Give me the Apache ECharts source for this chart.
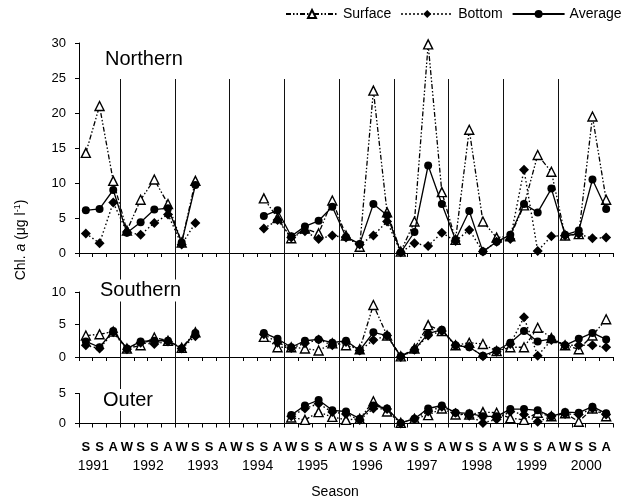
<!DOCTYPE html>
<html><head><meta charset="utf-8">
<script src="https://cdn.jsdelivr.net/npm/echarts@6/dist/echarts.min.js"></script>
<style>html,body{margin:0;padding:0;background:#fff}#c{width:633px;height:502px}</style>
</head><body><div id="c"></div>
<script>
// ---- data ----
const seasons = ['S','S','A','W','S','S','A','W','S','S','A','W','S','S','A','W','S','S','A','W',
                 'S','S','A','W','S','S','A','W','S','S','A','W','S','S','A','W','S','S','A'];
const years = ['1991','1992','1993','1994','1995','1996','1997','1998','1999','2000'];
const n = null;
const northSurface = [14.3,21.0,10.3,3.2,7.6,10.5,7.0,1.5,10.3,n,n,n,n,7.8,5.0,2.1,3.5,2.8,7.5,2.5,
                      0.9,23.2,5.8,0.2,4.5,29.8,8.7,1.9,17.6,4.5,2.2,2.4,6.8,14.0,11.6,2.5,2.7,19.5,7.6];
const northBottom  = [2.8,1.4,7.2,3.0,2.6,4.3,5.5,1.2,4.3,n,n,n,n,3.5,4.7,2.2,3.1,2.0,2.5,2.2,
                      1.2,2.5,4.5,0.1,1.4,1.0,2.9,1.7,3.3,0.2,1.6,2.0,11.9,0.3,2.4,2.5,2.7,2.1,2.2];
const northAverage = [6.1,6.3,9.0,2.9,4.4,6.2,6.4,1.5,9.7,n,n,n,n,5.3,6.1,2.4,3.8,4.6,6.6,2.3,
                      1.3,7.0,5.4,0.1,3.0,12.5,7.0,1.9,6.0,0.2,1.6,2.6,7.0,5.8,9.2,2.6,3.2,10.5,6.3];
const southSurface = [3.3,3.5,3.9,1.3,1.8,3.0,2.5,1.4,3.8,n,n,n,n,3.1,1.5,1.5,1.3,1.0,2.1,1.8,
                      1.2,8.0,3.3,0.1,1.3,4.9,4.0,1.8,2.2,2.0,0.9,1.5,1.5,4.5,2.9,1.8,1.2,3.3,5.8];
const southBottom  = [1.8,1.3,3.8,1.2,2.2,2.0,2.4,1.3,3.2,n,n,n,n,3.5,2.2,1.4,2.1,2.7,1.8,2.3,
                      1.0,2.6,3.3,0.0,1.1,3.3,4.0,1.8,1.6,0.1,0.8,2.0,6.1,0.2,2.6,1.8,1.8,1.8,1.5];
const southAverage = [2.4,1.5,4.0,1.3,2.4,2.5,2.5,1.3,3.7,n,n,n,n,3.7,2.8,1.5,2.5,2.7,2.2,2.5,
                      1.0,3.8,3.3,0.1,1.1,3.6,4.2,1.8,1.5,0.2,1.0,2.2,4.0,2.4,2.8,1.8,2.8,3.7,2.7];
const outerSurface = [n,n,n,n,n,n,n,n,n,n,n,n,n,n,n,1.0,0.6,1.9,1.1,0.6,
                      0.8,3.7,2.0,0.1,0.8,1.4,2.5,1.5,1.5,1.9,1.8,0.9,0.6,1.8,1.2,1.7,0.3,2.5,1.2];
const outerBottom  = [n,n,n,n,n,n,n,n,n,n,n,n,n,n,n,1.2,2.5,3.3,1.9,1.6,
                      0.6,2.5,2.4,0.0,0.8,2.0,2.8,1.8,1.3,0.1,0.7,2.0,1.5,0.3,1.2,1.6,1.5,2.5,1.5];
const outerAverage = [n,n,n,n,n,n,n,n,n,n,n,n,n,n,n,1.4,3.0,3.9,2.2,2.0,
                      0.8,3.0,2.5,0.1,0.8,2.5,3.0,1.8,1.7,1.2,1.2,2.4,2.4,2.2,1.2,1.9,1.8,2.8,1.7];
const panelNames = ['Northern','Southern','Outer'];
const panelMax = [30, 10, 5];

// ---- chart ----
const FONT = 'Liberation Sans, Arial, sans-serif';
const chart = echarts.init(document.getElementById('c'), null, {renderer:'canvas'});
const L = 79, W = 534;
const grids = [
  {left:L, width:W, top:43, height:210},
  {left:L, width:W, top:292, height:65},
  {left:L, width:W, top:393.5, height:30},
  {left:L, width:W, top:79, height:344.5}
];
const axisLine = {show:true, lineStyle:{color:'#000', width:1}};
const xAxes = [0,1,2].map(g => ({
  type:'category', gridIndex:g, data:seasons, boundaryGap:true,
  axisLine, axisTick:{show:true, interval:0, length:4, lineStyle:{color:'#000'}},
  axisLabel: g===2 ? {show:true, interval:0, fontSize:13, fontWeight:'bold', color:'#000', margin:17, fontFamily:FONT} : {show:false},
  splitLine:{show:false}
}));
xAxes.push({
  type:'category', gridIndex:2, data:seasons, position:'bottom', boundaryGap:true,
  axisLine:{show:false}, axisTick:{show:false}, splitLine:{show:false},
  axisLabel:{show:true, interval:0, fontSize:14, color:'#000', margin:36, fontFamily:FONT,
    padding:[0,0,0,15],
    formatter:(v,i)=> (i%4===0 ? years[i/4] : '')}
});
xAxes.push({type:'value', gridIndex:3, min:-0.5, max:seasons.length-0.5, show:false});
const yAxes = [0,1,2].map(g => ({
  type:'value', gridIndex:g, min:0, max:panelMax[g], interval:5,
  axisLine, axisTick:{show:true, length:4, lineStyle:{color:'#000'}},
  axisLabel:{fontSize:13, color:'#000', margin:13, fontFamily:FONT},
  splitLine:{show:false}
}));
yAxes.push({type:'value', gridIndex:3, min:0, max:1, show:false});

const common = {type:'line', connectNulls:false, showAllSymbol:true, showSymbol:true};
function sSurface(data, g){return Object.assign({name:'Surface', xAxisIndex:g, yAxisIndex:g, data,
  symbol:'triangle', symbolSize:9, z:3,
  itemStyle:{color:'#fff', borderColor:'#000', borderWidth:1.4},
  lineStyle:{color:'#000', width:1.3, type:[5,2,1.5,2,1.5,2]}}, common);}
function sBottom(data, g){return Object.assign({name:'Bottom', xAxisIndex:g, yAxisIndex:g, data,
  symbol:'diamond', symbolSize:10, z:4,
  itemStyle:{color:'#000'},
  lineStyle:{color:'#000', width:1.4, type:[1.5,2.5]}}, common);}
function sAverage(data, g){return Object.assign({name:'Average', xAxisIndex:g, yAxisIndex:g, data,
  symbol:'circle', symbolSize:8, z:5,
  itemStyle:{color:'#000'},
  lineStyle:{color:'#000', width:1.3, type:'solid'}}, common);}

const yearBreaks = years.slice(0,-1).map((y,k)=>({xAxis: 4*k+2.5}));
const series = [
  {name:'sep', type:'line', xAxisIndex:4, yAxisIndex:3, data:[], silent:true, z:1,
   markLine:{silent:true, symbol:['none','none'], label:{show:false}, animation:false,
     lineStyle:{color:'#111', width:1, type:'solid'}, data:yearBreaks}},
  sSurface(northSurface,0), sBottom(northBottom,0), sAverage(northAverage,0),
  sSurface(southSurface,1), sBottom(southBottom,1), sAverage(southAverage,1),
  sSurface(outerSurface,2), sBottom(outerBottom,2), sAverage(outerAverage,2)
];
const titlePos = [[101,48.5],[96,279.5],[99,389]];
chart.setOption({
  animation:false,
  backgroundColor:'#fff',
  textStyle:{fontFamily:FONT},
  title: panelNames.map((t,k)=>({text:t, left:titlePos[k][0], top:titlePos[k][1], padding:[1,4],
    backgroundColor:'#fff', textStyle:{fontSize:20, fontWeight:'normal', color:'#000', fontFamily:FONT}})),
  legend:{data:['Surface','Bottom','Average'], left:285, top:7, itemWidth:52, itemHeight:10, itemGap:9,
    padding:0, textStyle:{fontSize:14, color:'#000', fontFamily:FONT}},
  grid: grids,
  xAxis: xAxes,
  yAxis: yAxes,
  series,
  graphic:[
    {type:'text', x:21, y:240, rotation:Math.PI/2, z:10,
     style:{text:'Chl. {i|a} (μg l{s|-1})', align:'center', verticalAlign:'middle', textAlign:'center', textVerticalAlign:'middle',
       fontSize:14, fontFamily:FONT, fill:'#000',
       rich:{i:{fontStyle:'italic', fontSize:14, fontFamily:FONT, fill:'#000'},
             s:{fontSize:9, fontFamily:FONT, fill:'#000', verticalAlign:'top', lineHeight:16}}}},
    {type:'text', x:335, y:492, z:10,
     style:{text:'Season', align:'center', verticalAlign:'middle', textAlign:'center', textVerticalAlign:'middle',
       fontSize:14, fontFamily:FONT, fill:'#000'}}
  ]
});
</script></body></html>
